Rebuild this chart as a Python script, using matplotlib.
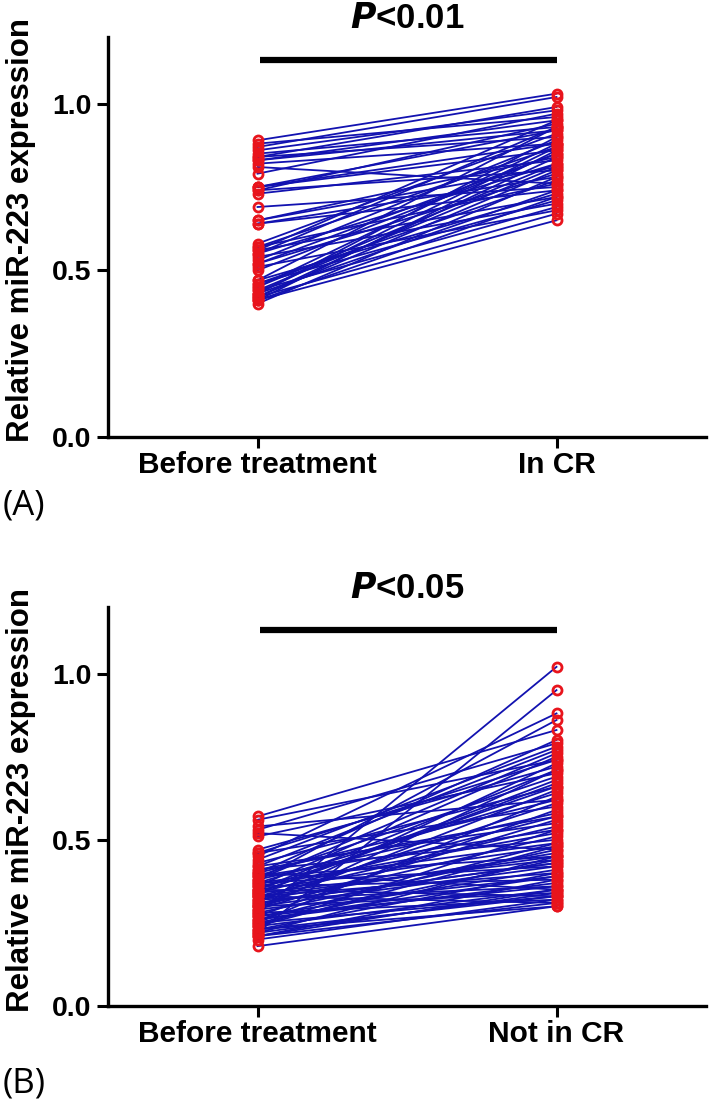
import matplotlib
matplotlib.use("Agg")
import matplotlib.pyplot as plt

# Panel A: before treatment vs in CR
before_a = [0.89, 0.88, 0.87, 0.85, 0.84, 0.84, 0.83, 0.82, 0.81, 0.79,
            0.75, 0.75, 0.74, 0.74, 0.73, 0.69, 0.65, 0.64, 0.64, 0.58,
            0.57, 0.56, 0.56, 0.55, 0.54, 0.53, 0.52, 0.51, 0.50, 0.47,
            0.46, 0.46, 0.45, 0.44, 0.44, 0.43, 0.43, 0.42, 0.42, 0.42,
            0.41, 0.41, 0.41, 0.40, 0.86, 0.83, 0.75, 0.65, 0.57, 0.55,
            0.52, 0.47, 0.45, 0.43]
after_a = [1.03, 0.96, 1.02, 0.93, 0.99, 0.90, 0.95, 0.88, 0.76, 0.97,
           0.92, 0.86, 0.80, 0.94, 0.83, 0.75, 0.84, 0.78, 0.74, 0.91,
           0.87, 0.72, 0.95, 0.82, 0.70, 0.89, 0.79, 0.68, 0.85, 0.93,
           0.77, 0.71, 0.88, 0.81, 0.69, 0.90, 0.74, 0.84, 0.67, 0.80,
           0.86, 0.72, 0.65, 0.78, 0.98, 0.92, 0.88, 0.81, 0.76, 0.93,
           0.85, 0.73, 0.82, 0.87]

# Panel B: before treatment vs not in CR
before_b = [0.57, 0.56, 0.53, 0.52, 0.51, 0.47, 0.46, 0.45, 0.43, 0.42,
            0.42, 0.41, 0.40, 0.40, 0.39, 0.39, 0.38, 0.38, 0.37, 0.37,
            0.36, 0.36, 0.35, 0.35, 0.35, 0.34, 0.34, 0.34, 0.33, 0.33,
            0.33, 0.32, 0.32, 0.32, 0.31, 0.31, 0.30, 0.30, 0.30, 0.29,
            0.29, 0.28, 0.28, 0.28, 0.27, 0.27, 0.26, 0.26, 0.25, 0.25,
            0.25, 0.24, 0.24, 0.23, 0.23, 0.22, 0.22, 0.22, 0.21, 0.21,
            0.20, 0.18, 0.38, 0.44, 0.40, 0.36, 0.34, 0.30, 0.27, 0.23,
            0.54, 0.46, 0.41, 0.37, 0.35, 0.31, 0.29, 0.26, 0.24, 0.21,
            0.39, 0.33]
after_b = [0.83, 0.74, 0.79, 0.47, 0.70, 0.72, 0.60, 0.88, 0.66, 0.55,
           0.77, 0.50, 0.62, 0.35, 0.69, 0.45, 0.58, 0.76, 0.42, 0.64,
           0.52, 0.38, 0.71, 0.48, 0.33, 0.57, 0.44, 0.68, 0.40, 0.54,
           0.31, 0.61, 0.46, 0.36, 0.73, 0.43, 0.51, 0.34, 0.65, 0.39,
           0.56, 0.47, 0.32, 1.02, 0.41, 0.59, 0.37, 0.49, 0.33, 0.63,
           0.44, 0.35, 0.53, 0.30, 0.40, 0.95, 0.34, 0.45, 0.31, 0.38,
           0.32, 0.30, 0.86, 0.78, 0.80, 0.75, 0.67, 0.42, 0.36, 0.33,
           0.62, 0.74, 0.57, 0.49, 0.66, 0.43, 0.71, 0.39, 0.48, 0.35,
           0.53, 0.45]

labels_a = ['Before treatment', 'In CR']
labels_b = ['Before treatment', 'Not in CR']
yticks = [0.0, 0.5, 1.0]
ytick_labels = ['0.0', '0.5', '1.0']

W, H = 709, 1111
FONT = 'Liberation Sans'
fig = plt.figure(figsize=(W / 100, H / 100), dpi=100)


def panel(top_px, bottom_px, before, after, labels, ptext, tag, tag_y):
    ax = fig.add_axes([108 / W, 1 - bottom_px / H, 598 / W, (bottom_px - top_px) / H])
    for b, a in zip(before, after):
        ax.plot([0, 1], [b, a], color='#1212b0', lw=1.3, zorder=2)
    ax.plot([0] * len(before), before, 'o', ms=6.5, mfc='none', mec='#e8141c', mew=2.0, zorder=3)
    ax.plot([1] * len(after), after, 'o', ms=6.5, mfc='none', mec='#e8141c', mew=2.0, zorder=3)

    ax.set_xlim(-0.5, 1.5)
    ax.set_ylim(0, 1.2)
    ax.set_yticks(yticks)
    ax.set_yticklabels(ytick_labels, fontfamily=FONT, fontweight='bold', fontsize=20.5)
    ax.set_xticks([0, 1])
    ax.set_xticklabels(labels, fontfamily=FONT, fontweight='bold', fontsize=21.5)
    ax.tick_params(axis='both', length=8, width=2.2)
    ax.tick_params(axis='y', pad=4)
    ax.tick_params(axis='x', pad=2)
    for s in ['top', 'right']:
        ax.spines[s].set_visible(False)
    for s in ['left', 'bottom']:
        ax.spines[s].set_linewidth(2.4)

    # y label placed in figure pixels
    mid = (top_px + bottom_px) / 2 - 7
    fig.text(21 / W, 1 - mid / H, 'Relative miR-223 expression', rotation=90,
             ha='center', va='center', fontfamily=FONT, fontweight='bold', fontsize=22.5)

    # significance bar
    ax.plot([0.01, 1.0], [1.13, 1.13], color='black', lw=4.5, solid_capstyle='butt', clip_on=False)
    ax.text(0.5, 1.227, ptext, ha='center', va='baseline', fontsize=25,
            fontfamily=FONT, fontweight='bold', clip_on=False)
    fig.text(3 / W, 1 - tag_y / H, tag, ha='left', va='center', fontsize=25, fontfamily='Open Sans')
    return ax


panel(37, 437, before_a, after_a, labels_a, r'$\mathbfit{P}$<0.01', '(A)', 506)
panel(607, 1006, before_b, after_b, labels_b, r'$\mathbfit{P}$<0.05', '(B)', 1084)

fig.savefig('out.png', dpi=100, facecolor='white')
